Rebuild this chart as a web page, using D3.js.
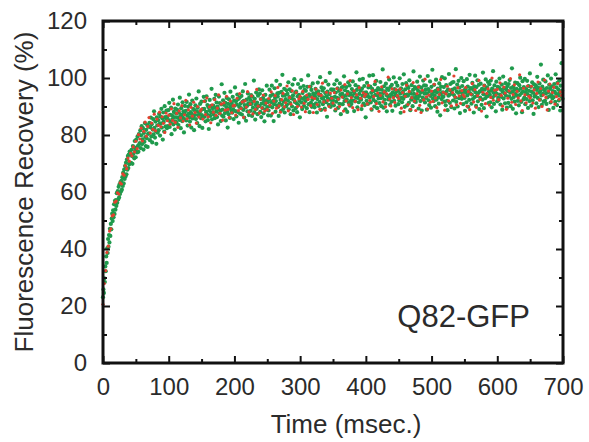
<!DOCTYPE html>
<html>
<head>
<meta charset="utf-8">
<script src="https://cdn.jsdelivr.net/npm/d3@7"></script>
<style>
  body { margin: 0; background: #fff; }
  svg { display: block; }
  .tick text { font-family: "Liberation Sans", Arial, sans-serif; fill: #2b2b2b; }
</style>
</head>
<body>
<div id="visual"></div>
<script>
// sampling interval of each recording (msec.)
const greenStep = 0.7;
const redStep = 2;

// green series, fluorescence recovery (%), one row = 20 samples
const greenY = [
  23.1, 25.8, 24.6, 29.7, 28.4, 33.9, 32.2, 37.4, 35.1, 40.2, 38.6, 43.5, 40.8, 44.9, 42.3, 47.1, 44.6, 48.8, 46.9, 50.7,
  52.4, 49.8, 53.6, 51.1, 55.7, 52.3, 56.9, 53.8, 57.2, 55.1, 59.6, 56.2, 60.3, 57.4, 61.8, 58.1, 62.7, 59.3, 63.5, 60.2,
  63.9, 60.8, 65.2, 62.1, 66.8, 63.0, 67.9, 64.6, 69.1, 65.4, 70.3, 66.2, 71.4, 67.8, 72.6, 68.4, 73.1, 69.7, 74.2, 70.1,
  73.4, 70.2, 74.8, 72.6, 69.9, 76.1, 73.3, 75.7, 71.8, 77.9, 74.5, 72.2, 78.3, 75.6, 73.9, 79.4, 76.2, 74.1, 80.3, 76.8,
  77.2, 81.6, 75.4, 79.9, 83.1, 76.8, 78.5, 82.4, 74.9, 80.7, 77.6, 84.2, 79.3, 76.1, 81.8, 78.9, 83.5, 75.8, 80.4, 82.9,
  80.6, 84.3, 78.2, 82.7, 86.1, 79.5, 83.8, 77.4, 81.9, 85.6, 80.2, 88.3, 82.5, 79.1, 84.7, 81.3, 76.9, 86.2, 83.4, 80.8,
  85.2, 81.7, 87.4, 83.9, 79.8, 86.5, 84.1, 89.2, 82.6, 85.8, 78.4, 87.9, 84.6, 81.2, 90.1, 86.3, 83.0, 85.7, 88.6, 82.4,
  86.4, 83.1, 88.7, 85.2, 91.3, 82.8, 87.1, 84.5, 89.6, 80.3, 86.9, 85.6, 92.4, 83.7, 88.1, 86.2, 81.9, 89.3, 84.8, 87.5,
  84.2, 88.9, 86.1, 90.7, 83.5, 87.8, 85.3, 93.1, 86.6, 82.4, 89.4, 87.2, 84.9, 91.5, 86.0, 88.3, 80.9, 87.7, 90.2, 85.5,
  88.5, 85.1, 91.6, 86.8, 83.3, 89.9, 87.4, 94.2, 86.1, 84.7, 90.8, 88.0, 82.6, 87.3, 92.1, 85.8, 89.2, 86.5, 81.7, 88.7,
  87.1, 90.4, 85.6, 92.8, 88.3, 84.2, 89.6, 86.9, 95.3, 87.7, 83.1, 90.9, 88.4, 85.9, 91.7, 87.0, 82.5, 89.1, 86.3, 93.4,
  89.2, 86.4, 91.9, 84.8, 88.1, 93.6, 87.3, 90.5, 85.2, 89.8, 82.1, 88.6, 92.3, 86.7, 90.1, 87.9, 96.2, 85.5, 89.4, 88.0,
  90.3, 87.1, 92.7, 85.9, 89.5, 94.1, 88.2, 91.4, 86.3, 90.0, 83.7, 89.1, 93.5, 87.6, 91.2, 88.5, 84.9, 90.7, 97.8, 86.8,
  88.9, 92.2, 86.4, 90.6, 94.8, 87.7, 91.3, 85.1, 89.8, 93.0, 88.2, 82.6, 90.9, 87.3, 92.5, 89.4, 86.0, 95.2, 90.1, 88.6,
  91.2, 87.8, 93.4, 89.0, 85.6, 92.1, 90.3, 96.7, 88.4, 91.8, 86.5, 90.7, 94.2, 88.1, 92.6, 84.3, 89.9, 93.1, 87.5, 91.0,
  89.4, 93.7, 87.2, 91.6, 95.3, 88.8, 92.0, 86.1, 90.5, 97.9, 89.7, 85.0, 92.4, 90.2, 88.3, 94.6, 91.1, 87.0, 93.2, 90.8,
  92.3, 88.5, 94.0, 90.9, 86.7, 93.5, 89.6, 91.8, 99.1, 88.0, 92.7, 85.4, 90.6, 94.9, 89.2, 91.4, 87.3, 93.8, 90.1, 96.0,
  90.2, 94.5, 88.1, 92.6, 86.3, 91.0, 95.7, 89.4, 93.0, 87.6, 91.9, 84.8, 90.7, 94.1, 88.9, 92.2, 97.3, 89.8, 91.5, 86.9,
  88.6, 92.4, 95.9, 90.1, 93.7, 86.8, 91.5, 97.3, 89.7, 94.2, 92.0, 84.9, 90.8, 96.4, 93.1, 88.2, 91.9, 99.0, 90.4, 94.6,
  93.5, 89.9, 86.7, 94.8, 91.0, 97.6, 92.3, 88.5, 95.1, 90.6, 101.1, 93.8, 89.2, 91.7, 96.2, 87.9, 94.0, 92.6, 90.0, 95.7,
  90.7, 94.4, 92.1, 98.5, 89.0, 93.3, 96.0, 91.2, 87.3, 95.4, 92.8, 90.0, 97.7, 93.9, 88.6, 92.5, 99.6, 91.6, 94.9, 89.4,
  95.2, 91.1, 88.0, 93.6, 97.9, 90.5, 94.1, 92.0, 86.2, 96.6, 93.0, 99.3, 91.4, 89.1, 94.7, 92.7, 97.2, 90.2, 95.8, 93.3,
  91.9, 95.5, 93.2, 89.4, 96.9, 92.6, 100.9, 90.8, 94.3, 88.0, 93.7, 97.0, 91.3, 95.8, 89.9, 92.4, 98.1, 94.6, 90.6, 93.9,
  89.7, 93.5, 96.2, 91.1, 94.8, 87.9, 92.6, 98.4, 95.3, 90.2, 93.9, 91.6, 100.3, 94.1, 88.8, 96.7, 92.9, 95.6, 90.8, 93.2,
  96.4, 92.0, 89.3, 94.7, 98.9, 91.5, 93.6, 86.4, 95.2, 92.8, 97.7, 90.6, 94.3, 101.8, 92.4, 89.9, 96.0, 93.1, 91.2, 95.8,
  92.2, 95.9, 90.4, 97.8, 93.4, 88.6, 94.9, 91.7, 99.2, 93.0, 96.4, 89.5, 92.7, 95.5, 90.9, 98.1, 94.2, 87.3, 93.8, 96.6,
  94.5, 90.8, 97.0, 93.3, 100.6, 91.9, 95.7, 89.0, 93.9, 96.8, 92.5, 88.1, 95.1, 98.5, 91.4, 94.0, 97.4, 90.3, 94.6, 92.0,
  90.9, 96.1, 93.7, 98.8, 92.1, 95.3, 88.4, 94.6, 91.8, 97.5, 93.2, 102.0, 95.8, 89.7, 93.0, 96.9, 91.5, 94.4, 99.4, 92.6,
  95.6, 92.4, 89.1, 96.3, 93.8, 99.7, 91.0, 94.9, 97.2, 90.5, 93.5, 86.2, 95.0, 92.0, 98.3, 94.2, 90.9, 96.7, 93.3, 100.8,
  93.1, 97.0, 91.4, 94.8, 88.9, 96.2, 93.6, 101.0, 92.3, 95.4, 90.0, 97.8, 94.1, 91.7, 99.0, 95.7, 89.4, 93.9, 96.5, 92.8,
  96.0, 91.2, 94.5, 98.6, 92.9, 90.1, 95.9, 93.4, 103.0, 94.7, 89.6, 97.1, 92.4, 95.3, 91.0, 98.0, 94.0, 88.3, 96.3, 93.7,
  92.5, 95.8, 99.5, 93.1, 90.6, 96.9, 94.3, 91.7, 97.6, 88.5, 95.0, 93.5, 100.2, 92.0, 96.1, 94.6, 90.3, 98.4, 93.9, 95.4,
  97.3, 93.4, 90.8, 95.6, 92.2, 99.9, 94.5, 87.8, 96.4, 93.0, 91.5, 97.9, 95.1, 92.7, 101.3, 94.0, 89.9, 96.0, 93.6, 98.2,
  94.2, 90.4, 97.1, 93.8, 96.5, 91.3, 99.2, 95.0, 88.7, 94.6, 92.4, 97.5, 93.2, 90.1, 95.8, 102.3, 94.4, 91.9, 96.8, 93.0,
  91.6, 96.3, 94.0, 98.7, 92.8, 95.5, 89.3, 97.0, 93.7, 100.5, 91.9, 94.9, 96.6, 88.6, 95.3, 93.1, 99.1, 92.3, 97.4, 94.5,
  91.4, 95.8, 97.3, 93.0, 88.9, 94.6, 100.7, 96.1, 92.2, 90.5, 95.4, 98.8, 93.7, 89.6, 96.9, 94.2, 102.9, 92.8, 95.1, 91.9,
  97.6, 93.9, 90.1, 95.5, 99.4, 92.4, 94.9, 88.2, 96.3, 93.2, 91.0, 98.1, 95.8, 86.9, 94.4, 97.0, 92.6, 100.3, 93.6, 95.0,
  93.4, 96.8, 91.7, 99.9, 94.7, 90.4, 97.5, 95.2, 92.0, 88.7, 96.0, 93.8, 101.4, 94.1, 91.3, 97.9, 95.6, 89.8, 94.5, 98.4,
  95.9, 92.1, 98.6, 94.0, 89.3, 96.4, 93.1, 103.1, 91.6, 95.3, 97.7, 90.0, 94.8, 99.0, 92.9, 96.6, 87.7, 95.1, 93.5, 100.0,
  92.7, 97.2, 94.4, 90.8, 98.9, 95.7, 93.0, 88.5, 96.1, 94.9, 91.5, 99.6, 93.9, 97.0, 89.9, 95.4, 92.3, 101.1, 94.6, 96.3,
  96.5, 91.0, 94.2, 98.3, 92.6, 95.8, 87.9, 97.1, 93.3, 100.8, 95.0, 90.2, 96.8, 93.7, 99.2, 91.8, 94.7, 97.6, 89.1, 95.3,
  93.1, 98.0, 95.5, 90.6, 96.2, 92.4, 101.9, 94.3, 89.4, 97.3, 95.9, 92.9, 99.5, 94.0, 86.5, 96.7, 93.6, 98.6, 91.2, 95.2,
  97.8, 94.1, 91.5, 99.1, 95.6, 89.7, 96.3, 93.2, 102.4, 94.8, 90.9, 97.4, 93.9, 95.7, 88.3, 98.7, 94.5, 91.8, 96.9, 93.0,
  92.3, 96.6, 99.8, 94.2, 90.7, 95.9, 93.4, 97.7, 88.9, 95.2, 100.5, 92.8, 96.4, 94.6, 91.1, 98.2, 93.8, 96.0, 89.6, 97.1,
  95.4, 91.3, 97.9, 93.6, 99.3, 94.9, 90.1, 96.5, 92.7, 103.4, 95.1, 89.2, 97.0, 93.3, 95.8, 91.7, 98.4, 94.4, 87.6, 96.2,
  93.8, 98.2, 92.0, 95.6, 90.4, 97.5, 94.0, 100.1, 96.3, 91.6, 94.7, 88.0, 98.9, 95.3, 92.5, 96.8, 93.1, 99.7, 90.8, 95.0,
  96.1, 92.6, 99.0, 94.3, 89.5, 97.2, 95.5, 91.9, 101.6, 93.7, 96.9, 90.3, 95.2, 98.5, 92.2, 94.8, 87.4, 97.8, 93.5, 96.4,
  94.1, 97.4, 91.1, 95.8, 100.4, 93.0, 96.6, 89.8, 94.9, 98.1, 92.4, 95.5, 104.7, 93.9, 90.6, 97.0, 94.4, 99.4, 91.7, 96.0,
  95.7, 92.0, 98.8, 94.6, 90.9, 96.5, 93.2, 100.9, 95.0, 88.8, 97.6, 93.6, 96.2, 91.4, 99.8, 94.1, 97.1, 92.8, 95.4, 89.5,
  93.3, 97.9, 95.1, 91.6, 101.3, 94.5, 96.7, 90.5, 98.3, 93.9, 95.9, 92.1, 99.1, 94.8, 88.6, 97.3, 93.6, 105.2, 95.6, 92.7
];

// red series, fluorescence recovery (%), one row = 25 samples
const redY = [
  20.6, 27.9, 32.4, 38.8, 41.0, 46.3, 47.1, 51.6, 52.0, 56.4, 56.8, 59.7, 59.3, 63.2, 62.8, 66.4, 65.9, 69.3, 68.2, 71.9, 70.8, 73.6, 72.7, 75.8, 74.1,
  77.8, 75.2, 80.1, 78.6, 82.4, 77.9, 81.3, 84.5, 79.6, 83.0, 86.1, 80.7, 84.2, 82.0, 87.3, 81.5, 85.6, 83.4, 88.0, 82.9, 86.4, 84.1, 80.9, 87.7, 85.0,
  86.9, 83.8, 89.2, 85.1, 91.0, 84.4, 87.6, 82.7, 88.5, 86.0, 90.3, 84.9, 87.1, 92.2, 85.7, 88.8, 83.5, 89.7, 86.6, 91.5, 87.9, 84.2, 90.0, 86.3, 88.4,
  89.1, 85.6, 91.8, 87.2, 93.0, 86.4, 89.9, 84.3, 90.6, 88.0, 92.4, 86.9, 89.4, 94.1, 87.6, 90.8, 85.2, 91.3, 88.7, 93.6, 89.0, 86.1, 91.9, 87.8, 90.2,
  90.4, 87.0, 92.9, 88.6, 94.5, 89.3, 91.6, 86.2, 92.0, 89.8, 95.2, 88.1, 90.9, 93.7, 87.4, 91.8, 89.0, 96.0, 90.1, 87.7, 92.6, 89.5, 94.0, 88.4, 91.2,
  88.9, 92.8, 90.5, 95.1, 87.6, 91.9, 93.8, 89.4, 96.7, 90.2, 88.0, 92.4, 94.6, 89.9, 91.3, 97.2, 88.5, 93.1, 90.8, 95.5, 87.2, 92.0, 94.9, 90.0, 92.7,
  93.6, 89.8, 95.3, 91.1, 88.2, 94.0, 92.5, 97.0, 90.3, 93.2, 87.9, 92.8, 96.1, 90.7, 94.4, 89.0, 93.9, 98.2, 91.6, 88.7, 95.0, 92.1, 90.0, 94.7, 92.9,
  91.2, 94.9, 89.1, 96.3, 92.6, 90.0, 95.8, 93.3, 88.4, 97.7, 92.0, 94.4, 90.6, 99.1, 93.1, 89.6, 95.5, 91.8, 94.1, 88.9, 96.6, 92.9, 90.3, 94.8, 93.6,
  94.3, 90.9, 97.4, 92.1, 89.2, 95.6, 93.5, 98.8, 91.0, 94.7, 88.3, 93.9, 96.9, 91.6, 95.1, 89.9, 94.4, 100.3, 92.6, 90.2, 96.2, 93.1, 91.4, 95.9, 93.8,
  92.8, 96.1, 89.4, 94.9, 88.2, 93.6, 97.5, 90.7, 95.3, 89.0, 93.1, 98.4, 91.9, 88.6, 94.5, 96.8, 90.4, 87.9, 95.7, 92.3, 99.6, 93.4, 89.1, 94.0, 91.5,
  95.4, 91.8, 97.8, 93.0, 89.6, 96.0, 94.2, 99.5, 91.3, 95.0, 88.7, 94.4, 97.1, 92.0, 95.8, 90.2, 94.9, 100.7, 93.3, 90.6, 96.6, 93.7, 91.1, 95.6, 94.1,
  93.5, 96.7, 90.1, 95.2, 88.9, 94.3, 98.0, 91.6, 95.9, 89.7, 93.8, 99.2, 92.5, 88.4, 95.0, 97.3, 91.0, 94.6, 96.2, 90.5, 93.2, 100.0, 92.2, 95.7, 94.0,
  96.0, 92.4, 98.3, 93.9, 90.1, 96.8, 94.7, 89.0, 92.9, 95.5, 99.8, 91.5, 94.2, 97.6, 90.7, 95.3, 93.0, 101.1, 92.0, 88.6, 96.4, 94.1, 91.3, 97.2, 93.6,
  93.0, 97.1, 91.2, 95.8, 89.4, 94.6, 98.6, 92.3, 96.3, 90.0, 94.0, 99.3, 93.2, 88.8, 95.4, 97.9, 91.7, 94.9, 96.7, 90.8, 93.5, 98.1, 92.6, 95.1, 93.9
];

const xTicks = [0, 100, 200, 300, 400, 500, 600, 700];
const xMinor = [50, 150, 250, 350, 450, 550, 650];
const yTicks = [0, 20, 40, 60, 80, 100, 120];
const yMinor = [10, 30, 50, 70, 90, 110];
const label = "Q82-GFP";

function recoveryChart(selector) {
    const COLORS = { green: "#1f9a4c", red: "#e2412f", ink: "#2b2b2b" };
    const FONT = "Liberation Sans, Arial, sans-serif";

    let width = 589,
        height = 442;
    let margin = { top: 21, right: 26, bottom: 79, left: 103 };
    let innerW = width - margin.left - margin.right,
        innerH = height - margin.top - margin.bottom;

    let x = d3.scaleLinear().domain([0, 700]).range([0, innerW]);
    let y = d3.scaleLinear().domain([0, 120]).range([innerH, 0]);

    let svg = d3.select(selector)
        .append("svg")
        .attr("width", width)
        .attr("height", height);

    let g = svg.append("g")
        .attr("transform", "translate(" + margin.left + "," + margin.top + ")");

    // points: green first, the sparser red trace on top
    g.append("g").selectAll("circle")
        .data(greenY)
        .enter().append("circle")
        .attr("cx", (d, i) => x(i * greenStep))
        .attr("cy", d => y(d))
        .attr("r", 2.1)
        .style("fill", COLORS.green);

    g.append("g").selectAll("circle")
        .data(redY)
        .enter().append("circle")
        .attr("cx", (d, i) => x(i * redStep))
        .attr("cy", d => y(d))
        .attr("r", 1.6)
        .style("fill", COLORS.red);

    // inward ticks on all four sides
    function styleAxis(sel) {
        sel.select(".domain").remove();
        sel.selectAll(".tick line").style("stroke", "#111").style("stroke-width", 2);
        sel.selectAll(".tick text").style("font-size", "24px").style("fill", COLORS.ink);
    }

    g.append("g").attr("transform", "translate(0," + innerH + ")")
        .call(d3.axisBottom(x).tickValues(xTicks).tickSize(-7).tickPadding(15).tickFormat(d3.format("d")))
        .call(styleAxis);
    g.append("g").attr("transform", "translate(0," + innerH + ")")
        .call(d3.axisBottom(x).tickValues(xMinor).tickSize(-4).tickFormat(""))
        .call(styleAxis);
    g.append("g")
        .call(d3.axisTop(x).tickValues(xTicks).tickSize(-7).tickFormat(""))
        .call(styleAxis);
    g.append("g")
        .call(d3.axisTop(x).tickValues(xMinor).tickSize(-4).tickFormat(""))
        .call(styleAxis);

    g.append("g")
        .call(d3.axisLeft(y).tickValues(yTicks).tickSize(-7).tickPadding(16).tickFormat(d3.format("d")))
        .call(styleAxis);
    g.append("g")
        .call(d3.axisLeft(y).tickValues(yMinor).tickSize(-4).tickFormat(""))
        .call(styleAxis);
    g.append("g").attr("transform", "translate(" + innerW + ",0)")
        .call(d3.axisRight(y).tickValues(yTicks).tickSize(-7).tickFormat(""))
        .call(styleAxis);
    g.append("g").attr("transform", "translate(" + innerW + ",0)")
        .call(d3.axisRight(y).tickValues(yMinor).tickSize(-4).tickFormat(""))
        .call(styleAxis);

    // frame
    g.append("rect")
        .attr("width", innerW)
        .attr("height", innerH)
        .style("fill", "none")
        .style("stroke", "#111")
        .style("stroke-width", 3);

    // axis titles
    svg.append("text")
        .attr("x", 346)
        .attr("y", 433)
        .attr("text-anchor", "middle")
        .style("font-family", FONT)
        .style("font-size", "26px")
        .style("fill", COLORS.ink)
        .text("Time (msec.)");

    svg.append("text")
        .attr("transform", "translate(33,192) rotate(-90)")
        .attr("text-anchor", "middle")
        .style("font-family", FONT)
        .style("font-size", "26px")
        .style("fill", COLORS.ink)
        .text("Fluorescence Recovery (%)");

    // sample label
    svg.append("text")
        .attr("x", 530)
        .attr("y", 327)
        .attr("text-anchor", "end")
        .style("font-family", FONT)
        .style("font-size", "31px")
        .style("fill", COLORS.ink)
        .text(label);
}

try {
    recoveryChart("#visual");
} catch (err) {
    console.log(err);
}
</script>
</body>
</html>
